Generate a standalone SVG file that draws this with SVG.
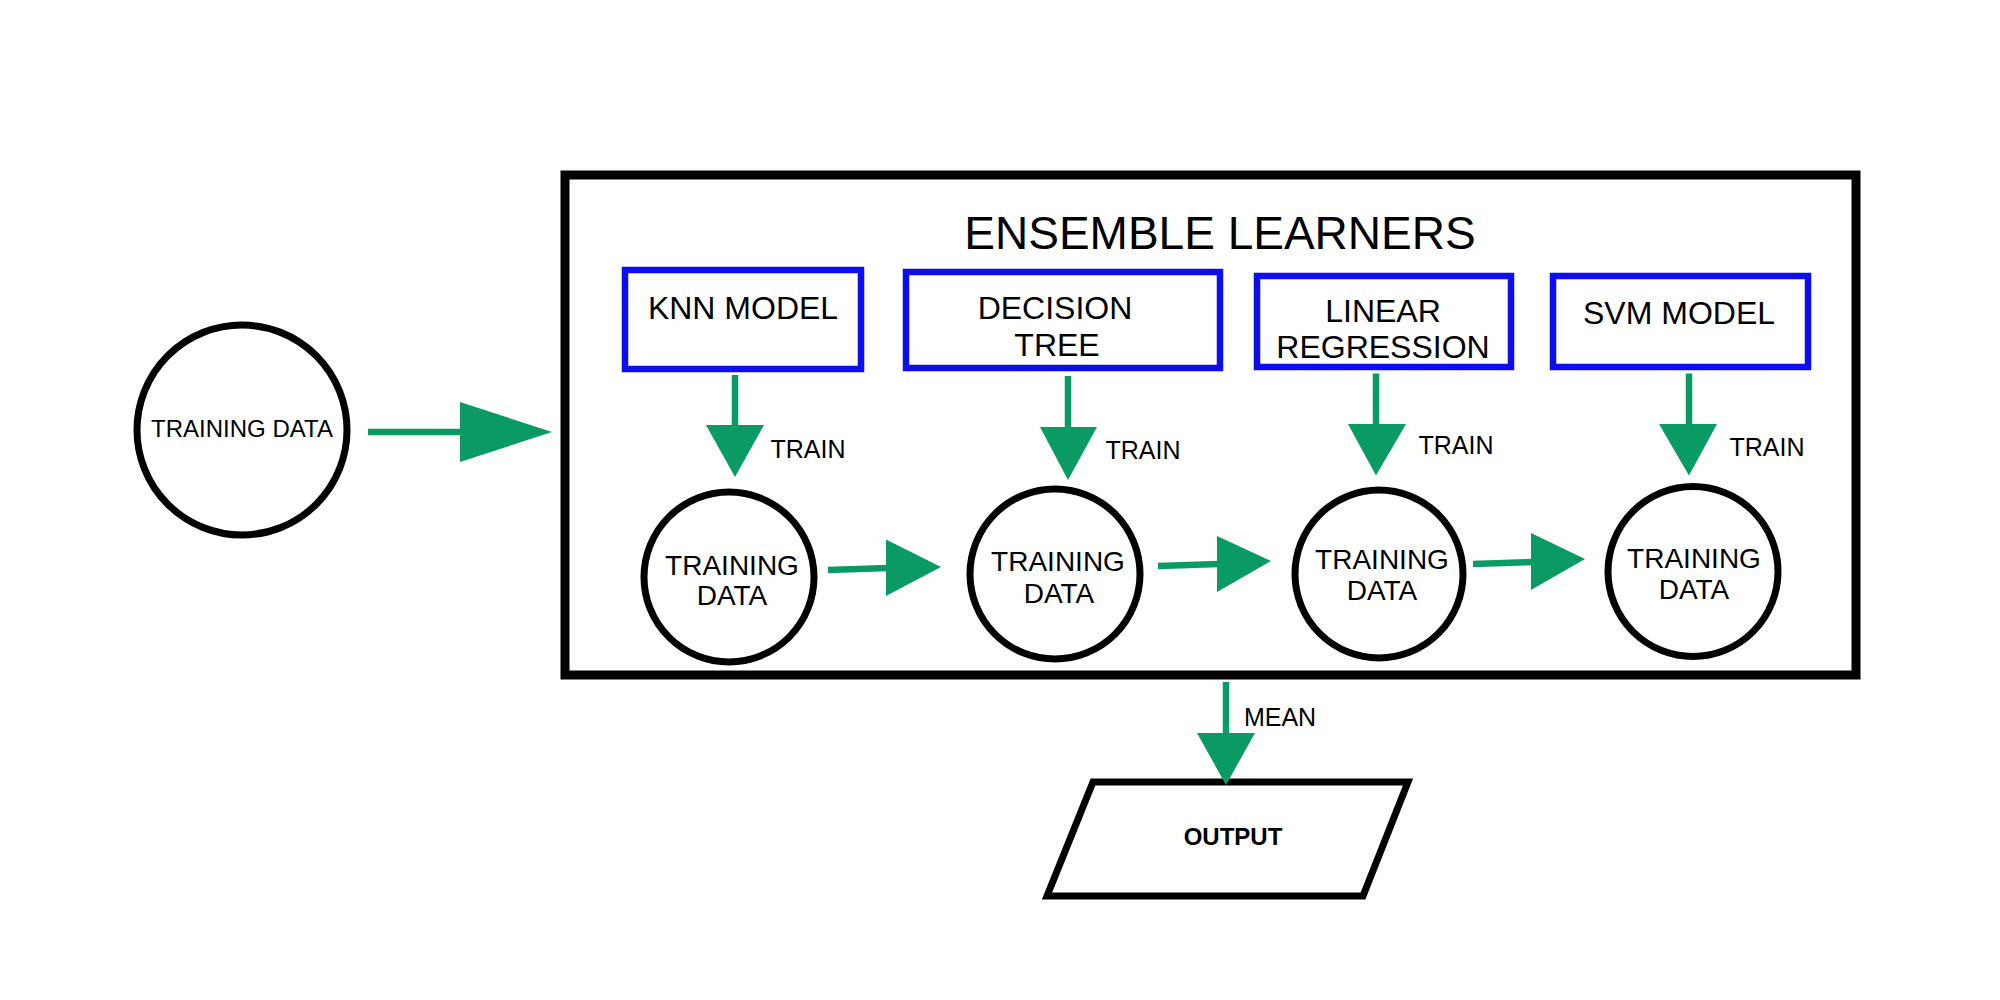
<svg xmlns="http://www.w3.org/2000/svg" width="2000" height="1000" viewBox="0 0 2000 1000">
<style>
.txt{font-family:"Liberation Sans",Arial,sans-serif;fill:#000;text-anchor:middle}
.circ{fill:#fff;stroke:#000;stroke-width:7}
.model{fill:#fff;stroke:#0d0df0;stroke-width:6.5}
.shaft{stroke:#0a9a64;stroke-width:6.5;fill:none}
.head{fill:#0a9a64;stroke:none}
</style>
<rect width="2000" height="1000" fill="#fff"/>
<g id="ensemble">
<rect x="565" y="175" width="1291" height="500" fill="#fff" stroke="#000" stroke-width="9"/>
<text class="txt" x="1220" y="249" font-size="46">ENSEMBLE LEARNERS</text>
</g>
<g id="input-training-data">
<circle class="circ" cx="242" cy="430" r="105"/>
<text class="txt" x="242" y="437" font-size="24">TRAINING DATA</text>
</g>
<g id="knn-model">
<rect class="model" x="625" y="270" width="236" height="99"/>
<text class="txt" x="743" y="319" font-size="32">KNN MODEL</text>
</g>
<g id="decision-tree">
<rect class="model" x="906" y="272" width="314" height="96"/>
<text class="txt" x="1055" y="319" font-size="32">DECISION</text>
<text class="txt" x="1057" y="356" font-size="32">TREE</text>
</g>
<g id="linear-regression">
<rect class="model" x="1257" y="276" width="254" height="91"/>
<text class="txt" x="1383" y="322" font-size="32">LINEAR</text>
<text class="txt" x="1383" y="358" font-size="32">REGRESSION</text>
</g>
<g id="svm-model">
<rect class="model" x="1553" y="276" width="255" height="91"/>
<text class="txt" x="1679" y="324" font-size="32">SVM MODEL</text>
</g>
<g id="training-data-1">
<circle class="circ" cx="729" cy="577" r="85"/>
<text class="txt" x="732" y="575" font-size="28">TRAINING</text>
<text class="txt" x="732" y="605" font-size="28">DATA</text>
</g>
<g id="training-data-2">
<circle class="circ" cx="1055" cy="574" r="85"/>
<text class="txt" x="1058" y="571" font-size="28">TRAINING</text>
<text class="txt" x="1059" y="603" font-size="28">DATA</text>
</g>
<g id="training-data-3">
<circle class="circ" cx="1379" cy="574" r="84"/>
<text class="txt" x="1382" y="569" font-size="28">TRAINING</text>
<text class="txt" x="1382" y="600" font-size="28">DATA</text>
</g>
<g id="training-data-4">
<circle class="circ" cx="1693" cy="571.5" r="85"/>
<text class="txt" x="1694" y="567.5" font-size="28">TRAINING</text>
<text class="txt" x="1694" y="599" font-size="28">DATA</text>
</g>
<g id="output">
<polygon points="1093,782 1408,782 1363,896 1047,896" fill="#fff" stroke="#000" stroke-width="7"/>
<text class="txt" x="1233" y="845" font-size="24" font-weight="bold">OUTPUT</text>
</g>
<g id="connectors">
<line class="shaft" x1="368" y1="432" x2="462" y2="432"/>
<polygon class="head" points="460,402 552,432 460,462"/>
<line class="shaft" x1="735" y1="375" x2="735" y2="427"/>
<polygon class="head" points="706,425 764,425 735,477"/>
<text class="txt" x="808" y="458" font-size="25">TRAIN</text>
<line class="shaft" x1="1068" y1="376" x2="1068" y2="429"/>
<polygon class="head" points="1040,427 1097,427 1068,480"/>
<text class="txt" x="1143" y="459" font-size="25">TRAIN</text>
<line class="shaft" x1="1376" y1="373.5" x2="1376" y2="426"/>
<polygon class="head" points="1348,424 1406,424 1376,475.5"/>
<text class="txt" x="1456" y="454" font-size="25">TRAIN</text>
<line class="shaft" x1="1689" y1="373.5" x2="1689" y2="426"/>
<polygon class="head" points="1659,424 1717,424 1689,475.5"/>
<text class="txt" x="1767" y="456" font-size="25">TRAIN</text>
<line class="shaft" x1="828" y1="570" x2="888" y2="568"/>
<polygon class="head" points="886,539.5 941,567 886,596"/>
<line class="shaft" x1="1158" y1="566" x2="1219" y2="564"/>
<polygon class="head" points="1217,536 1271,561 1217,592"/>
<line class="shaft" x1="1473" y1="564" x2="1533" y2="562"/>
<polygon class="head" points="1531,533 1585,559 1531,590"/>
<line class="shaft" x1="1226" y1="682" x2="1226" y2="735"/>
<polygon class="head" points="1197,733 1255,733 1226,785"/>
<text class="txt" x="1280" y="726" font-size="25">MEAN</text>
</g>
</svg>
